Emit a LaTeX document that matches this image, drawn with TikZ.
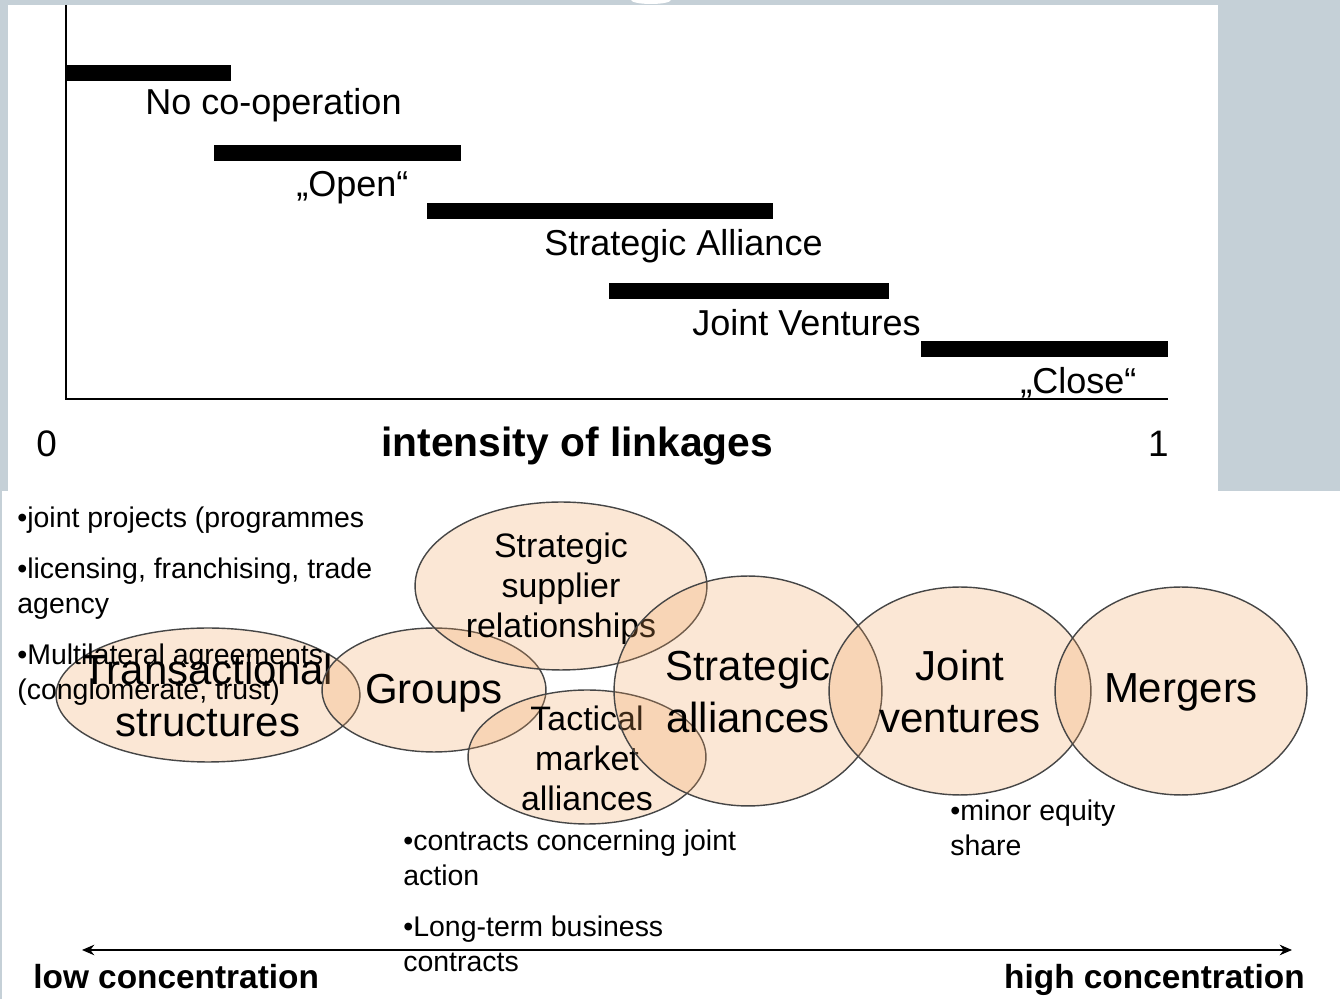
\documentclass[tikz,border=0pt]{standalone}
\usepackage{fontspec}
\setmainfont{Liberation Sans}
\usetikzlibrary{arrows.meta, shapes.geometric, positioning}
\definecolor{slidegray}{RGB}{197,208,215}
\definecolor{blobfill}{RGB}{240,160,90}
\definecolor{blobline}{RGB}{70,70,70}
\tikzset{>=Stealth}

\begin{document}
\begin{tikzpicture}[
x=0.02cm, y=-0.02cm,
bar/.style={fill=black},
axis/.style={line width=1.2pt},
lbl/.style={
  anchor=base west,
  inner sep=0pt,
  font=\fontsize{20.5}{24}\selectfont
  },
blob/.style 2 args={
  ellipse,
  draw=blobline,
  line width=0.8pt,
  fill=blobfill,
  fill opacity=0.25,
  draw opacity=1,
  inner sep=0pt,
  minimum width=#1*0.04cm,
  minimum height=#2*0.04cm
  },
big/.style={align=center, font=\fontsize{23.9}{29.6}\selectfont},
small/.style={align=center, font=\fontsize{19.3}{22.8}\selectfont},
note/.style={
  anchor=north west,
  align=left,
  inner sep=0pt,
  font=\fontsize{16.2}{19.9}\selectfont
  },
ends/.style={inner sep=0pt, font=\bfseries\fontsize{19}{23}\selectfont}
]
\useasboundingbox (0,0) rectangle (1340,999);

%the slide background
\fill[slidegray] (0,0) rectangle (1340,999);
\fill[white] (8,5) rectangle (1218,491);
\fill[white] (2,491) rectangle (1340,999);
\fill[white] (651,0) ellipse [x radius=20, y radius=4];

%the intensity chart
\draw[axis] (66,5) -- (66,399) -- (1168,399);
\fill[bar] (66,65) rectangle (231,81);
\fill[bar] (214,145) rectangle (461,161);
\fill[bar] (427,203) rectangle (773,219);
\fill[bar] (609,283) rectangle (889,299);
\fill[bar] (921,341) rectangle (1168,357);

\node[lbl] (noco) at (145,115) {No co-operation};
\node[lbl] (open) at (296,197) {„Open“};
\node[lbl] (stratall) at (544,256) {Strategic Alliance};
\node[lbl] (jv) at (692,336) {Joint Ventures};
\node[lbl] (close) at (1020,394) {„Close“};

\node[lbl, font=\fontsize{21}{25}\selectfont] (zero) at (36,457) {0};
\node[lbl, anchor=base east, font=\fontsize{21}{25}\selectfont] (one) at (1169,457) {1};
\node[lbl, font=\bfseries\fontsize{23.2}{27}\selectfont] (axtitle) at (381,457) {intensity of linkages};

%the forms of co-operation
\node[blob={152}{67}] (trans) at (208,695) {};
\node[big] (transtxt) at (trans.center) {Transactional\\structures};
\node[blob={112}{62}] (groups) at (434,690) {};
\node[big, yshift=-2pt] (groupstxt) at (groups.center) {Groups};
\node[blob={146}{84}] (supplier) at (561,586) {};
\node[small, yshift=-1.7pt] (suppliertxt) at (supplier.center) {Strategic\\supplier\\relationships};
\node[blob={119}{67}] (tactical) at (587,757) {};
\node[small, yshift=-0.6pt] (tacticaltxt) at (tactical.center) {Tactical\\market\\alliances};
\node[blob={134}{115}] (alliances) at (748,691) {};
\node[big] (alliancestxt) at (alliances.center) {Strategic\\alliances};
\node[blob={131}{104}] (ventures) at (960,691) {};
\node[big] (venturestxt) at (ventures.center) {Joint\\ventures};
\node[blob={126}{104}] (mergers) at (1181,691) {};
\node[big, yshift=-1pt] (mergerstxt) at (mergers.center) {Mergers};

%the notes
\node[note] (notea) at (17,507) {•joint projects (programmes\\[9pt]
  •licensing, franchising, trade\\agency\\[9pt]
  •Multilateral agreements\\(conglomerate, trust)};
\node[note] (noteb) at (403,830) {•contracts concerning joint\\action\\[9pt]
  •Long-term business\\contracts};
\node[note] (notec) at (950,800) {•minor equity\\share};

%the concentration scale
\coordinate (lowend) at (82,950);
\coordinate (highend) at (1292,950);
\draw[{Stealth[length=7pt,width=6pt]}-{Stealth[length=7pt,width=6pt]}, line width=0.9pt] (lowend) -- (highend);
\node[ends, anchor=base west] (low) at (33,989) {low concentration};
\node[ends, anchor=base east] (high) at (1305,989) {high concentration};

\end{tikzpicture}
\end{document}
